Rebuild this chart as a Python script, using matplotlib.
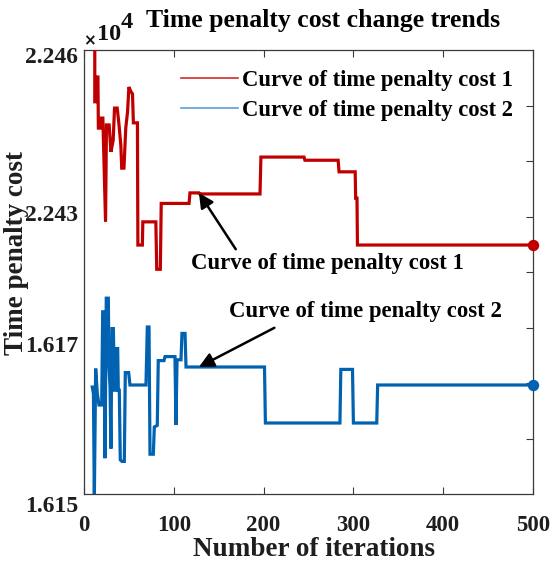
import matplotlib
matplotlib.use("Agg")
import matplotlib.pyplot as plt
from matplotlib.lines import Line2D

# ---- data -------------------------------------------------------------
# Curve of time penalty cost 1 (breakpoints: iteration, cost)
red_iter = [12, 12, 14, 14, 15.5, 16, 18, 19, 21, 24, 25, 28, 30, 32.5, 34, 37, 39,
            41, 42, 44.5, 46.5, 48.5, 50, 52, 54, 55, 59.5, 60, 65, 65.5, 80, 81,
            85, 86, 117, 118, 128, 129, 196, 197, 245, 246, 283, 284, 302, 302.5,
            304, 304.5, 500]
red_cost = [22462, 22451.5, 22451.5, 22456.2, 22456.2, 22446.5, 22446.5, 22448.4,
            22448.4, 22428.7, 22447.1, 22447.1, 22442.0, 22444.2, 22450.3, 22450.3,
            22447.1, 22443.3, 22438.9, 22438.9, 22446.5, 22449.6, 22454.3, 22453.5,
            22453.0, 22447.5, 22447.5, 22424.3, 22424.3, 22428.7, 22428.7, 22419.7,
            22419.7, 22432.2, 22432.2, 22434.2, 22434.2, 22434.0, 22434.0, 22441.0,
            22441.0, 22440.4, 22440.4, 22438.2, 22438.2, 22433.2, 22433.2, 22424.3,
            22424.3]

# Curve of time penalty cost 2 (breakpoints: iteration, cost)
blue_iter = [9.2, 10.5, 11.5, 13, 14.8, 16.7, 19.7, 20.8, 22.3, 23.4, 24.8, 27.1,
             27.8, 29, 30, 31.2, 32.7, 33.8, 34.9, 36.4, 37.5, 38.2, 39.3, 40.4,
             42.3, 44.9, 46, 49.7, 51.2, 69, 70.5, 72.4, 73.5, 77.2, 78.3, 81.6,
             82.7, 89.1, 90.2, 101.3, 102.4, 103.6, 108, 109.1, 112.5, 113.6, 201,
             202, 285, 286, 299, 300, 326, 327, 500]
blue_cost = [16165.0, 16164.2, 16151.0, 16167.3, 16164.2, 16162.75, 16162.75,
             16174.4, 16174.4, 16156.1, 16176.1, 16176.1, 16167.5, 16165.0, 16157.3,
             16172.3, 16172.3, 16164.6, 16164.6, 16169.8, 16169.8, 16164.6, 16164.6,
             16155.9, 16155.7, 16155.7, 16166.8, 16166.8, 16165.25, 16165.25,
             16172.5, 16172.5, 16156.6, 16156.6, 16160.0, 16160.2, 16168.3, 16168.3,
             16168.8, 16168.8, 16160.25, 16168.4, 16168.4, 16171.7, 16171.7,
             16167.5, 16167.5, 16160.5, 16160.5, 16167.2, 16167.2, 16160.5,
             16160.5, 16165.25, 16165.25]

x_ticks = [0, 100, 200, 300, 400, 500]
red_labels = {22460: "2.246", 22430: "2.243"}
blue_labels = {16170: "1.617", 16150: "1.615"}

legend_names = ["Curve of time penalty cost 1", "Curve of time penalty cost 2"]

# ---- styling ----------------------------------------------------------
SERIF = ["Liberation Serif", "DejaVu Serif"]
plt.rcParams["font.family"] = SERIF
plt.rcParams["font.weight"] = "bold"

RED = "#C00000"
BLUE = "#0062B0"
FRAME = "#3a3a3a"
INK = "#1e1e1e"

W, H = 560, 562
fig = plt.figure(figsize=(W / 100, H / 100), dpi=100)

def fx(px):
    return px / W

def fy(py):
    return 1 - py / H

L, R, T, B = 84, 533, 50, 494
ax = fig.add_axes([fx(L), fy(B), (R - L) / W, (B - T) / H])
ax.set_xlim(0, 500)
ax.set_ylim(0, 8)
for s in ax.spines.values():
    s.set_color(FRAME)
    s.set_linewidth(0.9)

ax_red = ax.twinx()
ax_blue = ax.twinx()
for a in (ax_red, ax_blue):
    a.set_yticks([])
    a.tick_params(left=False, right=False)
    for s in a.spines.values():
        s.set_visible(False)
ax_red.set_ylim(22377.03, 22461.33)
ax_blue.set_ylim(16151.625, 16207.125)

# frame ticks (set after twinx, which resets tick sides)
ax.set_xticks(x_ticks)
ax.set_xticklabels([str(t) for t in x_ticks], fontsize=16.5, fontweight="bold")
ax.tick_params(axis="x", direction="in", length=5, width=0.8, color=FRAME,
               top=True, bottom=True, pad=15, labelcolor=INK)
ax.set_yticks(range(1, 8))
ax.tick_params(axis="y", direction="in", length=5, width=0.8, color=FRAME,
               left=False, right=True, labelleft=False, labelright=False)

ax_red.plot(red_iter, red_cost, color=RED, lw=2.3, solid_joinstyle="miter")
ax_red.plot(red_iter[-1], red_cost[-1], "o", color=RED, ms=7.2, clip_on=False)
ax_blue.plot(blue_iter, blue_cost, color=BLUE, lw=2.3, solid_joinstyle="miter")
ax_blue.plot(blue_iter[-1], blue_cost[-1], "o", color=BLUE, ms=7.2, clip_on=False)

# left value labels for the two cost bands
lab_x = -6 / (R - L)
for a, labels in ((ax_red, red_labels), (ax_blue, blue_labels)):
    for val, txt in labels.items():
        a.text(lab_x, val, txt, transform=a.get_yaxis_transform(), ha="right",
               va="center", fontsize=17, fontweight="bold", color=INK,
               clip_on=False)

# exponent marker
fig.text(fx(89), fy(41), "×", fontsize=11, family="DejaVu Sans", ha="center",
         va="center", color="#111111")
fig.text(fx(97), fy(34), "10", fontsize=17.5, ha="left", va="center",
         fontweight="bold", color="#111111")
fig.text(fx(121), fy(22), "4", fontsize=17.5, ha="left", va="center",
         fontweight="bold", color="#111111")

# arrows and callouts
arrow_kw = dict(arrowstyle="-|>", color="black", lw=1.8, mutation_scale=22,
                shrinkA=0, shrinkB=0)
ax_red.annotate("", xy=(128, 22434.2), xytext=(169, 22423.5),
                arrowprops=arrow_kw)
ax_red.text(271, 22420.7, legend_names[0], ha="center", va="center",
            fontsize=16.4, fontweight="bold")
ax_blue.annotate("", xy=(128, 16167.5), xytext=(212, 16172.4),
                 arrowprops=arrow_kw)
ax_blue.text(314, 16174.4, legend_names[1], ha="center", va="center",
             fontsize=16.4, fontweight="bold")

# legend
handles = [Line2D([], [], color="#D42A2A", lw=1.2),
           Line2D([], [], color="#5AA0DA", lw=1.2)]
fig.legend(handles, legend_names, loc="upper left",
           bbox_to_anchor=(fx(181), fy(70)), frameon=False, borderpad=0,
           borderaxespad=0, handlelength=2.5, handletextpad=0.18,
           labelspacing=0.38,
           prop=dict(family=SERIF, weight="bold", size=16.3))

fig.text(fx(323.5), fy(21), "Time penalty cost change trends", ha="center",
         va="center", fontsize=18.5, fontweight="bold")
fig.text(fx(314), fy(549), "Number of iterations", ha="center", va="center",
         fontsize=19.5, fontweight="bold", color=INK)
fig.text(fx(17), fy(253), "Time penalty cost", ha="center", va="center",
         rotation=90, fontsize=19.5, fontweight="bold", color=INK)

fig.savefig("out.png", dpi=100)
